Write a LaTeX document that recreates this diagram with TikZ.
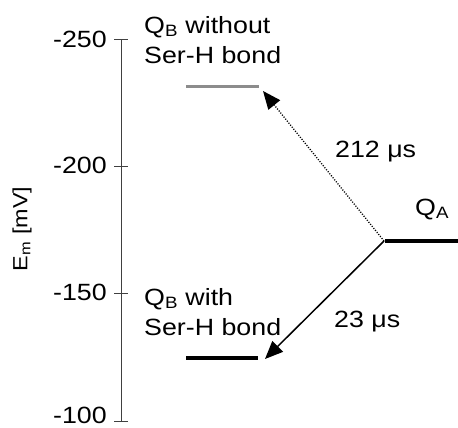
\documentclass[tikz,border=0pt]{standalone}
\usepackage{fontspec}
\setmainfont[FakeStretch=1.14]{Liberation Sans}
\usetikzlibrary{arrows.meta}
\begin{document}
\begin{tikzpicture}[x=1pt,y=-1pt,
  lbl/.style={inner sep=0pt,font=\fontsize{23.5}{30}\selectfont},
  ticklbl/.style={lbl,anchor=east},
  axisline/.style={line width=1pt,draw=black!75},
  level/.style={line width=4pt},
  greylevel/.style={line width=3pt,draw=black!45},
  tip/.style={-{Triangle[length=18pt,width=15pt]}},
  solidarrow/.style={tip,line width=1.5pt},
  dotarrow/.style={tip,line width=1.3pt,dash pattern=on 1.1pt off 1.5pt}]
\useasboundingbox[fill=white] (0,0) rectangle (458,428);
% axis
\coordinate (atop) at (121,40);
\coordinate (abot) at (121,421);
\draw[axisline] (atop) -- (abot);
\foreach \v/\y/\ly in {-250/40/39,-200/166/165,-150/293/292,-100/421/415}{
  \draw[axisline] (114,\y) -- (128,\y);
  \node[ticklbl] (t\y) at (107,\ly) {\v};
}
\node[lbl,rotate=90,font=\fontsize{20.5}{24}\selectfont] (ylab) at (22,229) {E\textsubscript{m} [mV]};
% levels
\coordinate (qbo1) at (186,87);
\coordinate (qbo2) at (259,87);
\coordinate (qbw1) at (186,358);
\coordinate (qbw2) at (258,358);
\coordinate (qa1) at (385,241);
\coordinate (qa2) at (458,241);
\draw[greylevel] (qbo1) -- (qbo2);
\draw[level] (qbw1) -- (qbw2);
\draw[level] (qa1) -- (qa2);
% labels
\node[lbl,anchor=north west,align=left] (lqbo) at (144,16) {Q\textsubscript{B} without\\Ser-H bond};
\node[lbl,anchor=north west,align=left] (lqbw) at (144,288) {Q\textsubscript{B} with\\Ser-H bond};
\node[lbl,anchor=base west] (lqa) at (415,215) {Q\textsubscript{A}};
\node[lbl,anchor=base west] (l212) at (335,157) {212 μs};
\node[lbl,anchor=base west] (l23) at (334,327) {23 μs};
% arrows
\coordinate (start) at (384,241);
\coordinate (end1) at (263,91);
\coordinate (end2) at (265,359);
\draw[dotarrow] (start) -- (end1);
\draw[solidarrow] (start) -- (end2);
\end{tikzpicture}
\end{document}
